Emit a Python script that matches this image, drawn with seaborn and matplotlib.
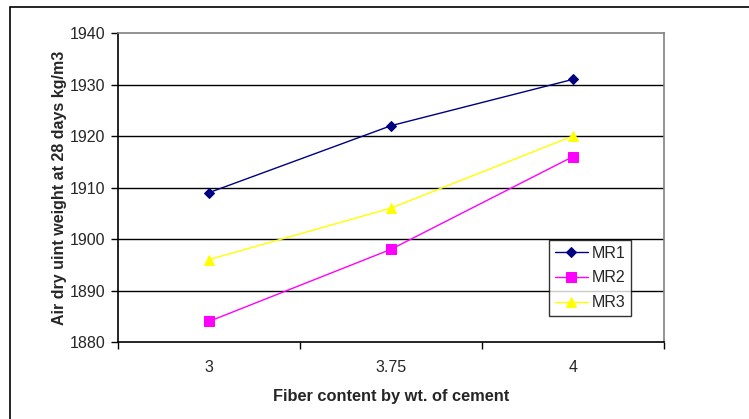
import matplotlib
matplotlib.use("Agg")
import matplotlib.pyplot as plt
import seaborn as sns
import pandas as pd
from matplotlib.patches import Rectangle

categories = ["3", "3.75", "4"]
mr1 = [1909, 1922, 1931]
mr2 = [1884, 1898, 1916]
mr3 = [1896, 1906, 1920]
series_names = ["MR1", "MR2", "MR3"]
y_ticks = [1880, 1890, 1900, 1910, 1920, 1930, 1940]

rows = []
for name, vals in zip(series_names, [mr1, mr2, mr3]):
    for c, v in zip(categories, vals):
        rows.append({"Fiber": c, "Weight": v, "Series": name})
df = pd.DataFrame(rows)

sns.set_style("white")
plt.rcParams['font.family'] = ['Liberation Sans', 'DejaVu Sans']

fig = plt.figure(figsize=(7.49, 4.19), dpi=100)
ax = fig.add_axes([118/749, 1-342/419, (664-118)/749, (342-33)/419])

# outer frame
fig.patches.append(Rectangle((10/749, -0.1), 1.2, 1 - 7/419 + 0.1, transform=fig.transFigure,
                             fill=False, edgecolor="black", linewidth=1.2))

palette = {"MR1": "#000080", "MR2": "#FF00FF", "MR3": "#FFFF00"}
markers = {"MR1": "D", "MR2": "s", "MR3": "^"}
sizes = {"MR1": 5.5, "MR2": 6.5, "MR3": 7.5}
for name in series_names:
    sub = df[df["Series"] == name]
    sns.lineplot(data=sub, x="Fiber", y="Weight", ax=ax, color=palette[name],
                 marker=markers[name], markersize=sizes[name], markeredgecolor=palette[name],
                 linewidth=1.0, label=name, sort=False)

fs = 11.5
ax.set_xlim(-0.5, 2.5)
ax.set_ylim(1880, 1940)
ax.set_yticks(y_ticks)
ax.set_yticklabels([str(t) for t in y_ticks], fontsize=fs)
ax.set_xticks(range(len(categories)))
ax.set_xticklabels(categories, fontsize=fs)
ax.tick_params(axis="x", length=0, pad=13)
ax.tick_params(axis="y", length=5, width=1, color="black", direction="out", pad=4, left=True)
ax.set_xticks([-0.5, 0.5, 1.5, 2.5], minor=True)
ax.tick_params(axis="x", which="minor", length=5, width=1, color="black", direction="out", bottom=True)

for t in y_ticks[1:-1]:
    ax.axhline(t, color="black", linewidth=1, zorder=0)

for s in ["left", "bottom"]:
    ax.spines[s].set_color("black")
    ax.spines[s].set_linewidth(1.2)
for s in ["right", "top"]:
    ax.spines[s].set_color("#808080")
    ax.spines[s].set_linewidth(1.2)

ax.set_xlabel("Fiber content by wt. of cement", fontsize=11.8, fontweight="bold", labelpad=10)
ax.set_ylabel("Air dry uint weight at 28 days kg/m3", fontsize=11.5, fontweight="bold", labelpad=2)

leg = ax.legend(loc="upper left", bbox_to_anchor=((549-118)/546, (342-240)/309),
                frameon=True, fancybox=False, fontsize=fs, borderpad=0.35,
                handlelength=2.1, handletextpad=0.2, labelspacing=0.62, borderaxespad=0)
leg.get_frame().set_edgecolor("black")
leg.get_frame().set_linewidth(1.0)

fig.savefig("out.png", dpi=100)
